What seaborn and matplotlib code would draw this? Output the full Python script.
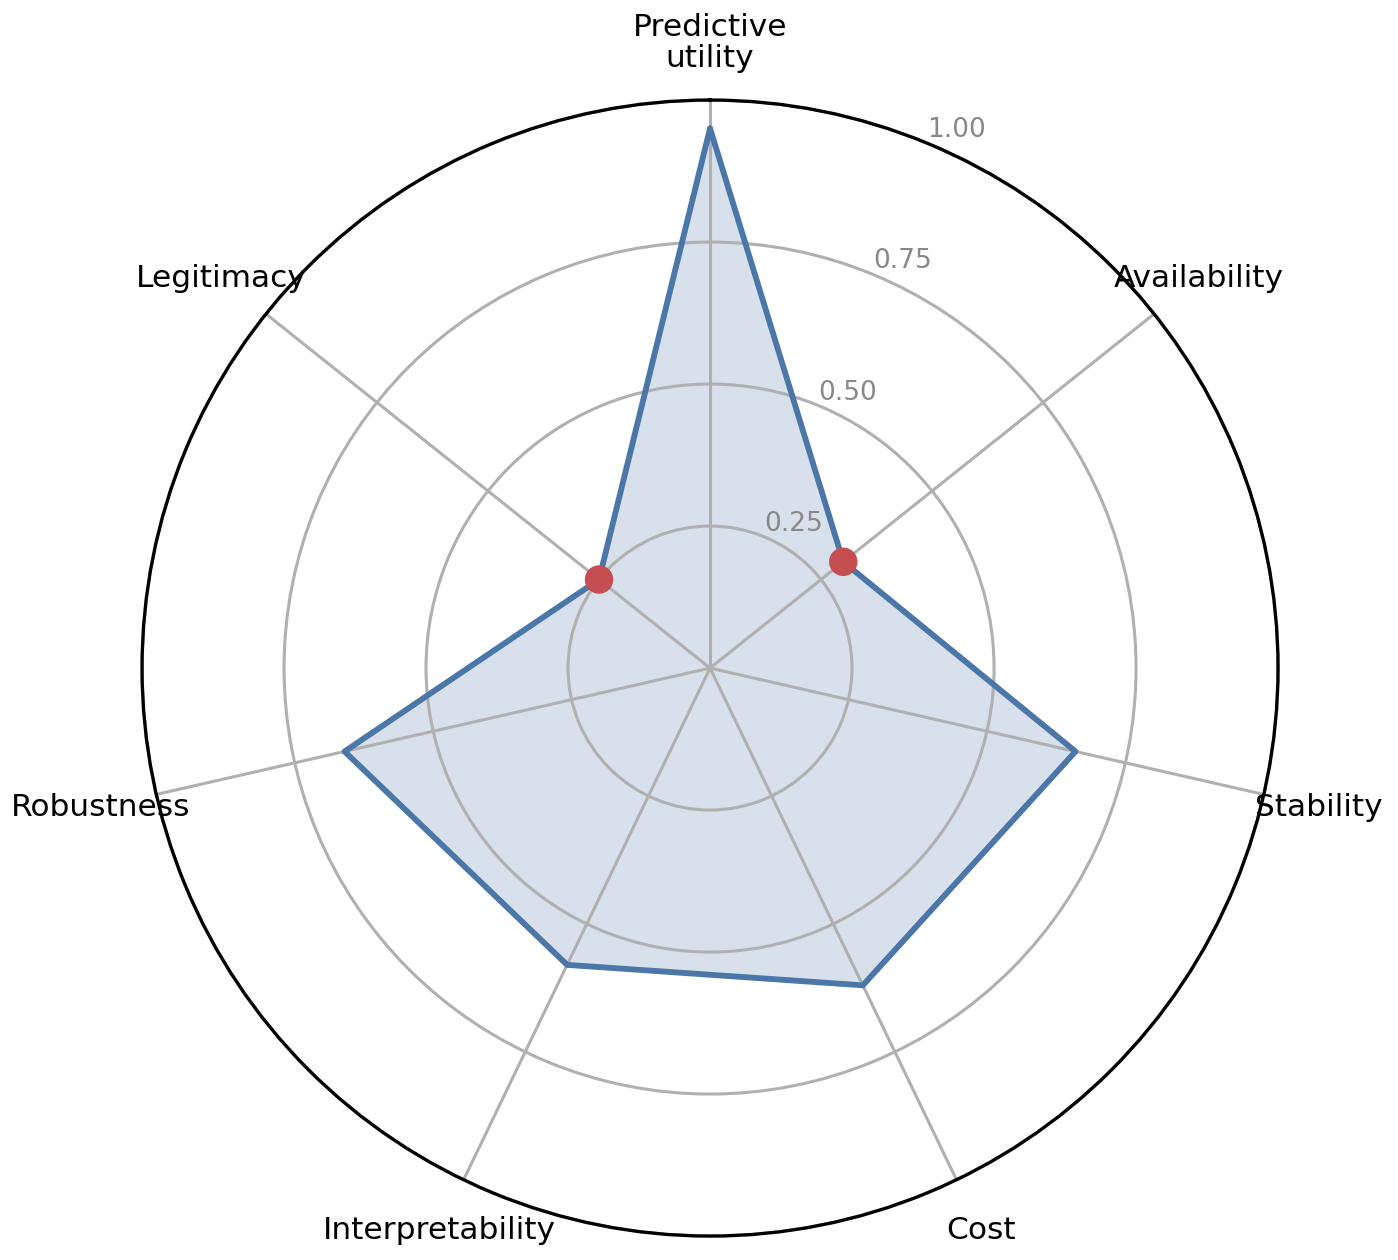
import numpy as np
import pandas as pd
import matplotlib
matplotlib.use("Agg")
import matplotlib.pyplot as plt
import seaborn as sns

categories = ["Predictive\nutility", "Availability", "Stability", "Cost",
              "Interpretability", "Robustness", "Legitimacy"]
scores = [0.95, 0.30, 0.66, 0.62, 0.58, 0.66, 0.25]
flagged = ["Availability", "Legitimacy"]
rticks = [0.25, 0.50, 0.75, 1.00]


def main():
    sns.set_theme(style="white")
    plt.rcParams["font.family"] = ["DejaVu Sans"]
    blue = "#4a76a8"
    red = "#c44e52"

    n = len(categories)
    angles = np.linspace(0, 2 * np.pi, n, endpoint=False)
    closed_angles = np.append(angles, angles[0])
    closed_scores = np.append(scores, scores[0])

    fig = plt.figure(figsize=(13.98, 12.6), dpi=100)
    ax = fig.add_axes([0.1016, 0.019, 0.8126, 0.9016], projection="polar")
    ax.set_theta_offset(np.pi / 2)
    ax.set_theta_direction(-1)
    # grid on top of the fill, under the outline
    ax.set_axisbelow(False)

    ax.fill(closed_angles, closed_scores, color=blue, alpha=0.22, zorder=2)
    ax.plot(closed_angles, closed_scores, color=blue, linewidth=4.2, zorder=3)

    df = pd.DataFrame({"angle": angles, "score": scores,
                       "category": [c.replace("\n", " ") for c in categories]})
    df_flag = df[df["category"].isin(flagged)]
    sns.scatterplot(data=df_flag, x="angle", y="score", ax=ax, color=red,
                    s=420, edgecolor="none", zorder=4, legend=False)

    ax.set_ylim(0, 1.0)
    ax.set_yticks(rticks)
    ax.set_yticklabels([f"{t:.2f}" for t in rticks], color="#888888", fontsize=19)
    ax.set_rlabel_position(22.5)
    ax.set_xticks(angles)
    ax.set_xticklabels([])
    for a, lab in zip(angles, categories):
        ax.text(a, 1.1, lab, ha="center", va="center", fontsize=22.5,
                color="black", linespacing=1.1)

    ax.grid(True, color="#b0b0b0", linewidth=2.2)
    ax.spines["polar"].set_color("black")
    ax.spines["polar"].set_linewidth(2.4)
    ax.spines["polar"].set_zorder(5)
    ax.set_xlabel("")
    ax.set_ylabel("")

    fig.savefig("out.png", dpi=100)
    plt.close(fig)


if __name__ == "__main__":
    main()
